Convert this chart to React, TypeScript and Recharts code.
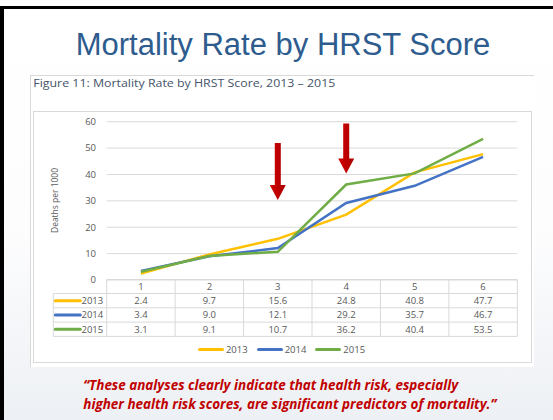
import { LineChart, Line, XAxis, YAxis, CartesianGrid, Legend, ReferenceDot } from 'recharts';

const scores = [1, 2, 3, 4, 5, 6];
const years = ['2013', '2014', '2015'];
const rate2013 = [2.4, 9.7, 15.6, 24.8, 40.8, 47.7];
const rate2014 = [3.4, 9.0, 12.1, 29.2, 35.7, 46.7];
const rate2015 = [3.1, 9.1, 10.7, 36.2, 40.4, 53.5];
const yTicks = [0, 10, 20, 30, 40, 50, 60];
// red arrows point at these spots (score, deaths per 1000)
const arrowScores = [3, 4];
const arrowValues = [30.3, 40.4];

const seriesRates = [rate2013, rate2014, rate2015];
const seriesColors = ['#FFC000', '#4472C4', '#70AD47'];

const data = scores.map((s, i) => ({
  score: s,
  y2013: rate2013[i],
  y2014: rate2014[i],
  y2015: rate2015[i],
}));

const W = 553;
const H = 420;
const PLOT_LEFT = 106.7;
const PLOT_RIGHT = 517.3;
const PLOT_TOP = 121.7;
const PLOT_BOTTOM = 280;
const Y_AXIS_W = 60;
const X_AXIS_H = 60;
const HEADER_H = 14;
const ROW_H = 14.3;
const ROW_HEAD_LEFT = 53.3;
const GRID = '#d9d9d9';
const TEXT = '#595959';
const SMALL_FONT = '"Open Sans", "Noto Sans", sans-serif';
const ARROW_LEN = [57, 50];

function TableTick(props: any) {
  const { x, y, index } = props;
  const colW = (PLOT_RIGHT - PLOT_LEFT) / scores.length;
  const left = x - colW / 2;
  const right = x + colW / 2;
  const top = y - 0.5;
  const rowTop = (r: number) => top + HEADER_H + r * ROW_H;
  const bottom = rowTop(years.length);
  const textStyle = { fontFamily: SMALL_FONT, fontSize: 9.5, fill: TEXT };
  return (
    <g>
      <line x1={left} x2={right} y1={top} y2={top} stroke={GRID} />
      {years.map((_, r) => (
        <line key={r} x1={left} x2={right} y1={rowTop(r)} y2={rowTop(r)} stroke={GRID} />
      ))}
      <line x1={left} x2={right} y1={bottom} y2={bottom} stroke={GRID} />
      <line x1={left} x2={left} y1={top} y2={bottom} stroke={GRID} />
      {index === scores.length - 1 && <line x1={right} x2={right} y1={top} y2={bottom} stroke={GRID} />}
      <text x={x} y={top + HEADER_H / 2} dy="0.35em" textAnchor="middle" style={textStyle}>
        {scores[index]}
      </text>
      {seriesRates.map((vals, r) => (
        <text key={r} x={x} y={rowTop(r) + ROW_H / 2} dy="0.35em" textAnchor="middle" style={textStyle}>
          {vals[index].toFixed(1)}
        </text>
      ))}
      {index === 0 && (
        <g>
          {years.map((yr, r) => (
            <g key={yr}>
              <line x1={ROW_HEAD_LEFT} x2={left} y1={rowTop(r)} y2={rowTop(r)} stroke={GRID} />
              <line
                x1={ROW_HEAD_LEFT + 2}
                x2={ROW_HEAD_LEFT + 27}
                y1={rowTop(r) + ROW_H / 2}
                y2={rowTop(r) + ROW_H / 2}
                stroke={seriesColors[r]}
                strokeWidth={3}
                strokeLinecap="round"
              />
              <text x={left - 3.5} y={rowTop(r) + ROW_H / 2} dy="0.35em" textAnchor="end" style={textStyle}>
                {yr}
              </text>
            </g>
          ))}
          <line x1={ROW_HEAD_LEFT} x2={left} y1={bottom} y2={bottom} stroke={GRID} />
          <line x1={ROW_HEAD_LEFT} x2={ROW_HEAD_LEFT} y1={rowTop(0)} y2={bottom} stroke={GRID} />
        </g>
      )}
    </g>
  );
}

function Arrow({ cx, cy, len }: { cx: number; cy: number; len: number }) {
  const sw = 3;
  const hw = 8;
  const hl = 15;
  const pts = [
    [cx - sw, cy - len],
    [cx + sw, cy - len],
    [cx + sw, cy - hl],
    [cx + hw, cy - hl],
    [cx, cy],
    [cx - hw, cy - hl],
    [cx - sw, cy - hl],
  ]
    .map((p) => p.join(','))
    .join(' ');
  return <polygon points={pts} fill="url(#arrowFill)" />;
}

function LegendRow() {
  return (
    <div style={{ display: 'flex', justifyContent: 'center', alignItems: 'center', height: 14 }}>
      {years.map((yr, i) => (
        <div key={yr} style={{ display: 'flex', alignItems: 'center', marginRight: i < years.length - 1 ? 9 : 0 }}>
          <div style={{ width: 26, height: 3, borderRadius: 2, background: seriesColors[i], marginRight: 2 }} />
          <span style={{ fontFamily: SMALL_FONT, fontSize: 9.5, color: TEXT }}>{yr}</span>
        </div>
      ))}
    </div>
  );
}

export default function App() {
  return (
    <div
      style={{
        position: 'absolute',
        left: 0,
        top: 0,
        width: W,
        height: H,
        overflow: 'hidden',
        background: 'linear-gradient(180deg, #ffffff 0%, #fdfdfe 55%, #edf0f4 100%)',
      }}
    >
      {/* slide frame */}
      <div
        style={{
          position: 'absolute',
          left: 0,
          top: 6,
          width: W + 10,
          height: H,
          borderTop: '3px solid #000',
          borderLeft: '4px solid #000',
        }}
      />
      {/* figure box */}
      <div
        style={{
          position: 'absolute',
          left: 30,
          top: 75,
          width: 503,
          height: 291,
          background: '#fff',
          borderTop: `1px solid ${GRID}`,
          borderLeft: `1px solid ${GRID}`,
        }}
      />
      <div
        style={{
          position: 'absolute',
          left: 32.5,
          top: 110.5,
          width: 497,
          height: 250,
          background: '#fff',
          border: `1px solid ${GRID}`,
        }}
      />
      <div style={{ position: 'absolute', left: 0, top: 0 }}>
        <LineChart
          width={W}
          height={H}
          data={data}
          margin={{
            top: PLOT_TOP,
            right: W - PLOT_RIGHT,
            bottom: H - PLOT_BOTTOM - X_AXIS_H,
            left: PLOT_LEFT - Y_AXIS_W,
          }}
        >
          <defs>
            <linearGradient id="arrowFill" x1="0" y1="0" x2="1" y2="0">
              <stop offset="0" stopColor="#d40000" />
              <stop offset="1" stopColor="#a80000" />
            </linearGradient>
          </defs>
          <CartesianGrid vertical={false} stroke={GRID} />
          <XAxis
            dataKey="score"
            scale="band"
            interval={0}
            height={X_AXIS_H}
            tickLine={false}
            axisLine={false}
            tickSize={0}
            tickMargin={0}
            tick={<TableTick />}
          />
          <YAxis
            domain={[0, 60]}
            ticks={yTicks}
            width={Y_AXIS_W}
            tickLine={false}
            axisLine={false}
            tickSize={0}
            tickMargin={10.7}
            tick={{ fill: TEXT, fontSize: 9.5, fontFamily: SMALL_FONT }}
          />
          <Legend
            layout="horizontal"
            verticalAlign="middle"
            align="center"
            content={() => <LegendRow />}
            wrapperStyle={{ top: 342, left: 32, width: 499, height: 14 }}
          />
          {years.map((yr, i) => (
            <Line
              key={yr}
              type="linear"
              dataKey={`y${yr}`}
              name={yr}
              stroke={seriesColors[i]}
              strokeWidth={2.5}
              dot={false}
              activeDot={false}
              isAnimationActive={false}
            />
          ))}
          {arrowScores.map((s, i) => (
            <ReferenceDot
              key={s}
              x={s}
              y={arrowValues[i]}
              r={0}
              ifOverflow="visible"
              shape={(p: any) => <Arrow cx={p.cx} cy={p.cy} len={ARROW_LEN[i]} />}
            />
          ))}
        </LineChart>
      </div>
      <svg
        width={W}
        height={H}
        style={{ position: 'absolute', left: 0, top: 0, pointerEvents: 'none' }}
      >
        <text
          x={283}
          y={55}
          textAnchor="middle"
          style={{ fontFamily: '"Liberation Sans", Arial, sans-serif', fontSize: 31, fill: '#2E5C8E' }}
        >
          Mortality Rate by HRST Score
        </text>
        <text
          x={33.3}
          y={86.5}
          textLength={302}
          lengthAdjust="spacingAndGlyphs"
          style={{ fontFamily: SMALL_FONT, fontSize: 11.5, fill: '#44546A' }}
        >
          Figure 11: Mortality Rate by HRST Score, 2013 – 2015
        </text>
        <text
          transform="translate(55,200.5) rotate(-90)"
          textAnchor="middle"
          dy="0.35em"
          textLength={65}
          lengthAdjust="spacingAndGlyphs"
          style={{ fontFamily: SMALL_FONT, fontSize: 9, fill: TEXT }}
        >
          Deaths per 1000
        </text>
        <g
          style={{
            fontFamily: '"Liberation Sans Narrow", "Open Sans", sans-serif',
            fontSize: 14.5,
            fontWeight: 'bold',
            fontStyle: 'italic',
            fill: '#C00000',
          }}
        >
          <text x={83.3} y={390} textLength={375} lengthAdjust="spacingAndGlyphs">
            “These analyses clearly indicate that health risk, especially
          </text>
          <text x={83.3} y={408.5} textLength={413} lengthAdjust="spacingAndGlyphs">
            higher health risk scores, are significant predictors of mortality.”
          </text>
        </g>
      </svg>
    </div>
  );
}
